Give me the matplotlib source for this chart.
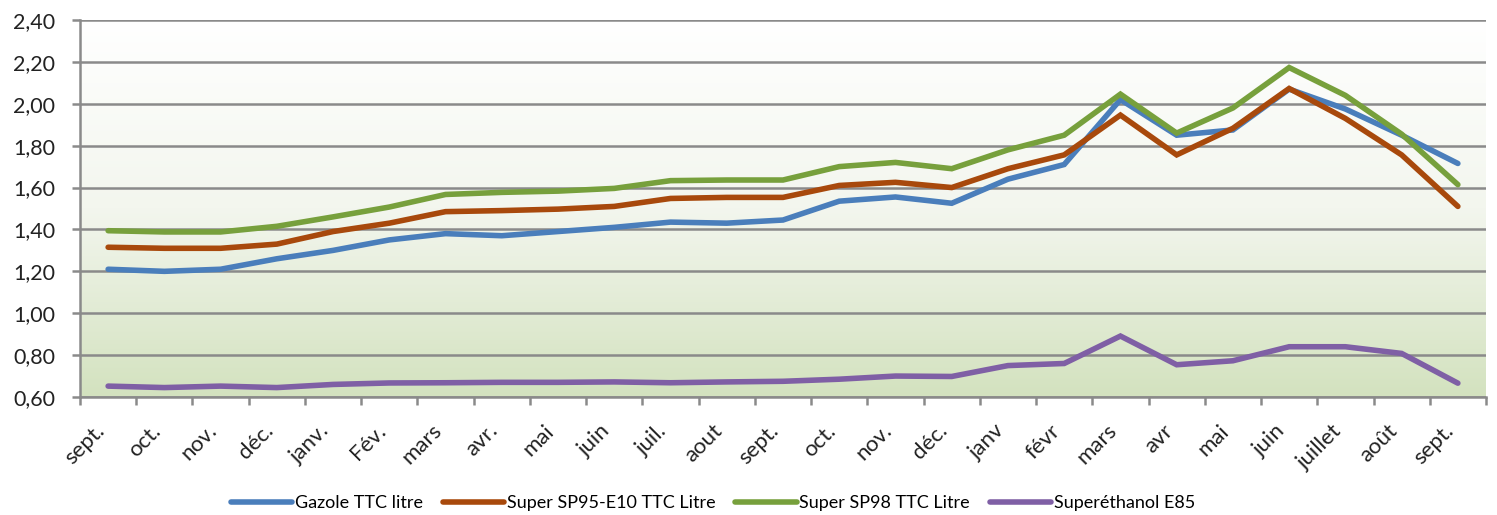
import numpy as np
import matplotlib
matplotlib.use("Agg")
import matplotlib.pyplot as plt
from matplotlib.colors import LinearSegmentedColormap
import matplotlib.transforms as mtransforms

months = ["sept.", "oct.", "nov.", "déc.", "janv.", "Fév.", "mars", "avr.", "mai", "juin",
          "juil.", "aout", "sept.", "oct.", "nov.", "déc.", "janv", "févr", "mars", "avr",
          "mai", "juin", "juillet", "août", "sept."]

gazole = [1.21, 1.20, 1.21, 1.26, 1.30, 1.35, 1.38, 1.37, 1.39, 1.41,
          1.435, 1.43, 1.445, 1.535, 1.555, 1.525, 1.64, 1.71, 2.02, 1.85,
          1.875, 2.07, 1.975, 1.85, 1.715]
sp95 = [1.315, 1.31, 1.31, 1.33, 1.39, 1.43, 1.485, 1.49, 1.497, 1.51,
        1.548, 1.553, 1.553, 1.61, 1.625, 1.60, 1.69, 1.756, 1.946, 1.756,
        1.883, 2.073, 1.93, 1.756, 1.51]
sp98 = [1.394, 1.388, 1.388, 1.415, 1.46, 1.507, 1.567, 1.577, 1.583, 1.596,
        1.633, 1.636, 1.636, 1.70, 1.72, 1.69, 1.78, 1.85, 2.046, 1.86,
        1.98, 2.173, 2.04, 1.855, 1.614]
e85 = [0.652, 0.645, 0.652, 0.645, 0.66, 0.667, 0.668, 0.67, 0.67, 0.672,
       0.668, 0.672, 0.675, 0.685, 0.70, 0.698, 0.75, 0.76, 0.891, 0.754,
       0.773, 0.84, 0.84, 0.808, 0.666]

series = [
    ("Gazole TTC litre", gazole, "#4a7ebb"),
    ("Super SP95-E10 TTC Litre", sp95, "#a8490c"),
    ("Super SP98 TTC Litre", sp98, "#77a03c"),
    ("Superéthanol E85", e85, "#7f5fa5"),
]

plt.rcParams['font.family'] = ['Lato', 'DejaVu Sans']

fig = plt.figure(figsize=(14.97, 5.15), dpi=100)
ax = fig.add_axes([80/1497, 1-397/515, (1486-80)/1497, (397-20)/515])

x = np.arange(len(months))
ax.set_xlim(-0.5, len(months) - 0.5)
ax.set_ylim(0.6, 2.4)

# gradient background (white at top, light green at bottom)
cmap = LinearSegmentedColormap.from_list("bg", ["#ffffff", "#f3f6ee", "#d3e2bf"])
grad = np.linspace(0, 1, 256).reshape(-1, 1)
ax.imshow(grad, cmap=cmap, aspect="auto", extent=[-0.5, len(months) - 0.5, 0.6, 2.4],
          origin="upper", zorder=0)

yt = np.round(np.arange(0.6, 2.41, 0.2), 2)
ax.set_yticks(yt)
ax.set_yticklabels([f"{v:.2f}".replace(".", ",") for v in yt], fontsize=15.5, color="#222222")
for v in yt:
    ax.axhline(v, color="#8a8a8a", lw=1.8, zorder=1)

for name, vals, col in series:
    ax.plot(x, vals, color=col, lw=4.0, label=name, zorder=3, solid_capstyle="round",
            solid_joinstyle="miter")

ax.set_xticks(x)
ax.set_xticklabels(months, rotation=45, ha="right", va="top", fontsize=16, color="#222222")
offset = mtransforms.ScaledTranslation(14/100, 0, fig.dpi_scale_trans)
for lab in ax.get_xticklabels():
    lab.set_transform(lab.get_transform() + offset)
ax.set_xticks(np.arange(-0.5, len(months)), minor=True)
ax.tick_params(axis="x", which="major", length=0, pad=17)
ax.tick_params(axis="x", which="minor", length=6, width=1.8, color="#8a8a8a", direction="out")
ax.tick_params(axis="y", length=6, width=1.8, color="#8a8a8a", direction="out", pad=12)

for s in ["top", "right"]:
    ax.spines[s].set_visible(False)
for s in ["left", "bottom"]:
    ax.spines[s].set_color("#8a8a8a")
    ax.spines[s].set_linewidth(1.8)
    ax.spines[s].set_zorder(2)

leg = fig.legend(loc="center", bbox_to_anchor=(713/1497, 1-503/515), ncol=4, frameon=False,
                 fontsize=13, handlelength=3.4, handletextpad=0.15, columnspacing=1.1)
for h in leg.get_lines():
    h.set_linewidth(4)

fig.savefig("out.png", dpi=100)
